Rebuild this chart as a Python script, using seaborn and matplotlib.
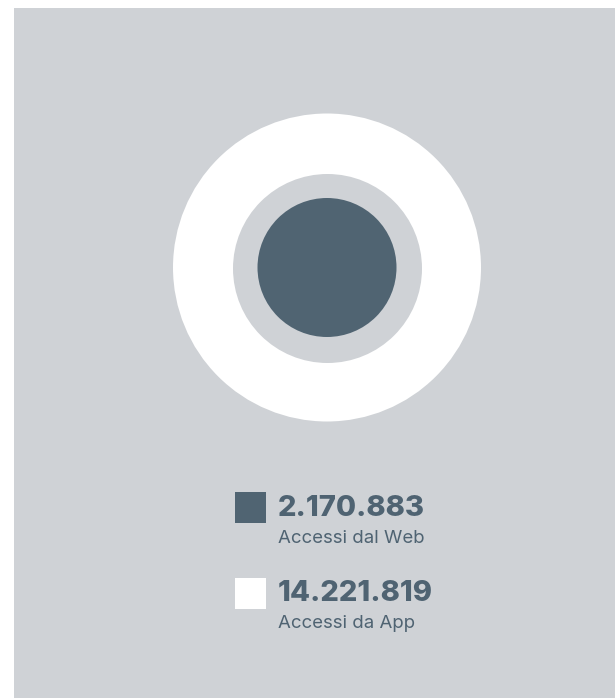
import matplotlib
matplotlib.use("Agg")
import matplotlib.pyplot as plt
import seaborn as sns
import pandas as pd
from matplotlib.patches import Rectangle

# ---- data ----
categories = ["Accessi dal Web", "Accessi da App"]
values = [2170883, 14221819]
value_labels = ["2.170.883", "14.221.819"]
colors = ["#506472", "#ffffff"]

BG = "#cfd2d6"
TEXT = "#4f6372"

sns.set_theme(style="white")
plt.rcParams['font.family'] = ['Inter', 'DejaVu Sans']

W, H = 615, 698
fig = plt.figure(figsize=(W / 100, H / 100), dpi=100, facecolor="white")
base = fig.add_axes([0, 0, 1, 1])
base.set_xlim(0, W)
base.set_ylim(H, 0)
base.axis('off')
base.add_patch(Rectangle((14, 8), W - 14, H - 8, facecolor=BG, edgecolor='none', zorder=0))

# ---- circles ----
cx, cy, side = 327, 267.5, 330
ax = fig.add_axes([(cx - side / 2) / W, 1 - (cy + side / 2) / H, side / W, side / H])
ax.set_xlim(-1, 1)
ax.set_ylim(-1, 1)
ax.axis('off')
ax.patch.set_alpha(0)

df = pd.DataFrame({"cat": categories, "value": values, "x": 0.0, "y": 0.0})
palette = dict(zip(categories, colors))

def pt2(diam_px):
    return (diam_px * 0.72) ** 2

sizes = (pt2(139), pt2(308))
norm = (min(values), max(values))

big = df[df["value"] == df["value"].max()]
small = df[df["value"] == df["value"].min()]
sns.scatterplot(data=big, x="x", y="y", hue="cat", size="value", sizes=sizes,
                size_norm=norm, palette=palette, linewidth=0, edgecolor="none",
                legend=False, ax=ax, zorder=1)
ax.scatter([0], [0], s=pt2(189), color=BG, linewidths=0, zorder=2)
sns.scatterplot(data=small, x="x", y="y", hue="cat", size="value", sizes=sizes,
                size_norm=norm, palette=palette, linewidth=0, edgecolor="none",
                legend=False, ax=ax, zorder=3)
ax.set_xlim(-1, 1)
ax.set_ylim(-1, 1)
ax.set_xlabel("")
ax.set_ylabel("")

# ---- legend ----
sq_x, sq_size = 235, 31
tops = [492, 578]
num_base = [516, 601]
lab_base = [543, 628]
for i in range(len(categories)):
    base.add_patch(Rectangle((sq_x, tops[i]), sq_size, 30.5, facecolor=colors[i],
                             edgecolor='none', zorder=2))
    base.text(278, num_base[i], value_labels[i], fontsize=21, fontweight='heavy',
              color=TEXT, va='baseline', ha='left')
    base.text(278, lab_base[i], categories[i], fontsize=13.4, color=TEXT,
              va='baseline', ha='left')

fig.savefig("out.png", dpi=100, facecolor=fig.get_facecolor())
